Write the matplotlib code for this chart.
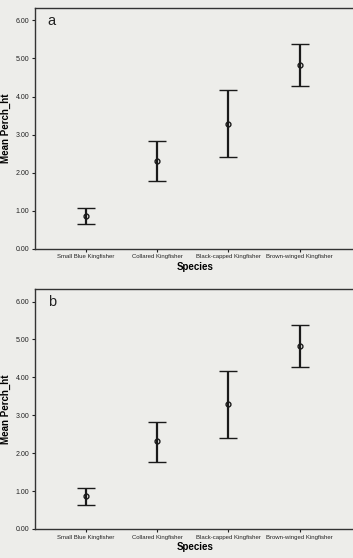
import matplotlib
matplotlib.use('Agg')
import matplotlib.pyplot as plt

species = ['Small Blue Kingfisher', 'Collared Kingfisher',
           'Black-capped Kingfisher', 'Brown-winged Kingfisher']
means = [0.86, 2.31, 3.29, 4.83]
lower = [0.64, 1.78, 2.40, 4.28]
upper = [1.08, 2.83, 4.18, 5.37]
yticks = [0, 1, 2, 3, 4, 5, 6]
ytick_labels = ['0.00', '1.00', '2.00', '3.00', '4.00', '5.00', '6.00']
panels = ['a', 'b']

bg = '#ededea'
plt.rcParams['font.family'] = ['Liberation Sans', 'DejaVu Sans']

fig = plt.figure(figsize=(3.53, 5.58), dpi=100, facecolor=bg)

# axes boxes in figure fractions (left, bottom, width, height)
# right edge runs off the canvas like in the scanned figure
boxes = [[0.099, 0.554, 0.905, 0.432],
         [0.099, 0.052, 0.905, 0.430]]

for box, lab in zip(boxes, panels):
    ax = fig.add_axes(box)
    ax.set_facecolor(bg)
    x = list(range(len(species)))
    err = [[m - l for m, l in zip(means, lower)],
           [u - m for m, u in zip(means, upper)]]
    ax.errorbar(x, means, yerr=err, fmt='o', color='#1a1a1a', ecolor='#1a1a1a',
                elinewidth=1.6, capsize=6.5, capthick=1.8,
                markersize=3.5, markerfacecolor='none', markeredgewidth=1.0)
    ax.set_xlim(-0.72, 3.77)
    ax.set_ylim(0, 6.33)
    ax.set_yticks(yticks)
    ax.set_yticklabels(ytick_labels, fontsize=5)
    ax.set_xticks(x)
    ax.set_xticklabels(species, fontsize=4.3)
    ax.tick_params(direction='out', length=2.5, width=0.8, pad=1.5, colors='#222222')
    for s in ax.spines.values():
        s.set_color('#333333')
        s.set_linewidth(1.0)
    ax.spines['right'].set_visible(False)
    ax.set_xlabel('Species', fontsize=7, fontweight='bold', labelpad=2)
    ax.set_ylabel('Mean Perch_ht', fontsize=7, fontweight='bold', labelpad=3)
    ax.text(0.04, 0.975, lab, transform=ax.transAxes, fontsize=10.5,
            va='top', ha='left', color='#222222')

fig.savefig('out.png', dpi=100, facecolor=bg)
